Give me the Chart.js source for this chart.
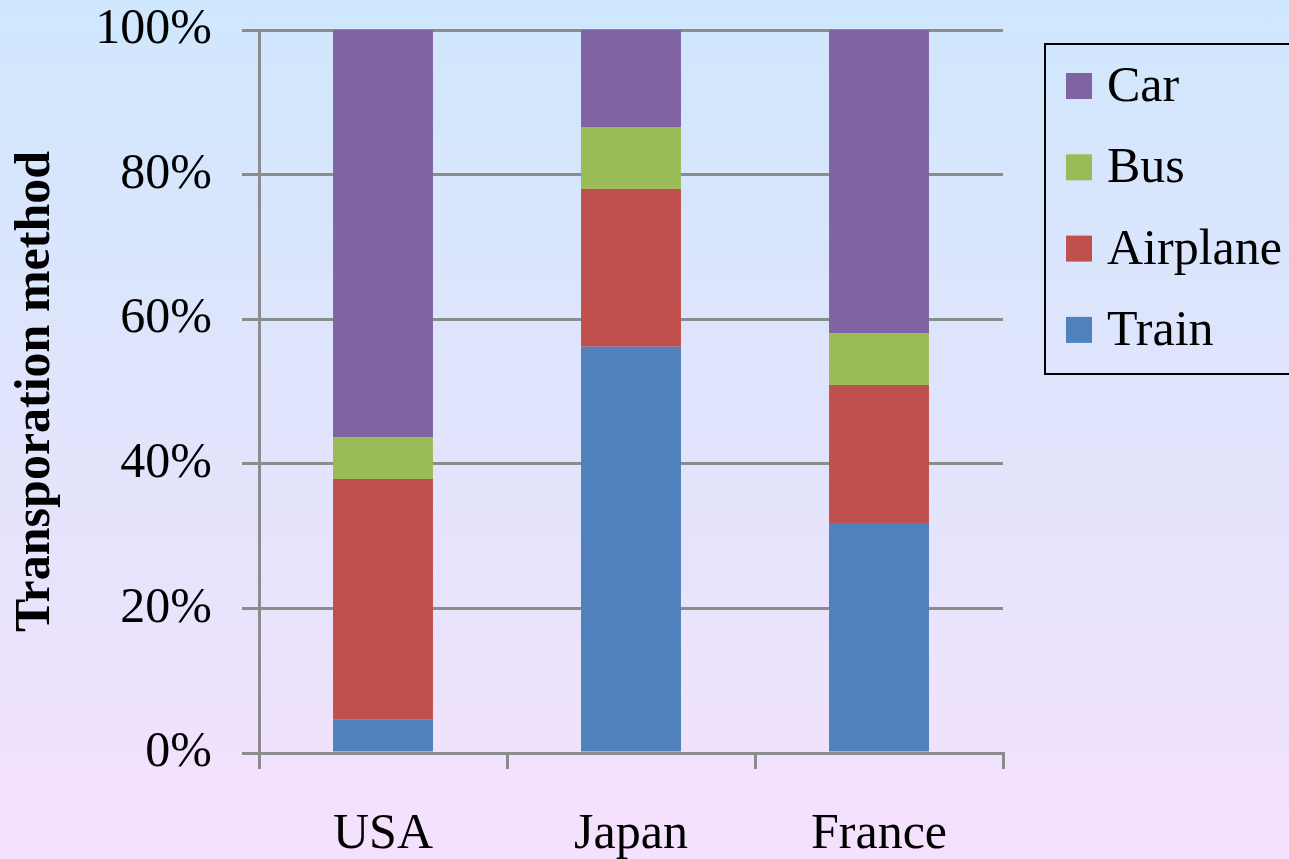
<!DOCTYPE html>
<html>
<head>
<meta charset="utf-8">
<title>Transportation method</title>
<script src="https://cdn.jsdelivr.net/npm/chart.js@4.4.1/dist/chart.umd.min.js"></script>
<style>
  html, body { margin: 0; padding: 0; }
  body {
    width: 1289px;
    height: 859px;
    overflow: hidden;
    background: linear-gradient(to bottom, #cfe7fd 0%, #e3e4fc 55%, #f5e1fd 100%);
  }
  #wrap { position: relative; width: 1289px; height: 859px; }
</style>
</head>
<body>
<div id="wrap"><canvas id="myChart" width="1289" height="859"></canvas></div>
<script>
// countries along the x axis
const countries = ['USA', 'Japan', 'France'];

// share of each transport method, percent (stacked bottom to top)
const train = [4.6, 56.2, 31.8];
const airplane = [33.3, 21.8, 19.1];
const bus = [5.8, 8.6, 7.2];
const car = [56.3, 13.4, 41.9];

const yTicks = [0, 20, 40, 60, 80, 100];
const yTitle = 'Transporation method';

const serif = "'Liberation Serif', 'Times New Roman', serif";
const gridColor = '#8c8c8c';

// boxed legend, listed top series first like the original
const boxLegend = {
  id: 'boxLegend',
  afterDraw(chart) {
    const ctx = chart.ctx;
    const area = chart.chartArea;
    const left = area.right + 42;
    const top = area.top + 14;
    const rowGap = 81.3;
    ctx.save();
    ctx.strokeStyle = '#000';
    ctx.lineWidth = 2;
    ctx.strokeRect(left, top, 300, 330);
    ctx.font = '50px ' + serif;
    ctx.textBaseline = 'middle';
    ctx.fillStyle = '#000';
    const sets = chart.data.datasets.slice().reverse();
    sets.forEach((ds, i) => {
      const cy = top + 42 + i * rowGap;
      ctx.fillStyle = ds.backgroundColor;
      ctx.fillRect(left + 21, cy - 13, 26, 26);
      ctx.fillStyle = '#000';
      ctx.fillText(ds.label, left + 62, cy + 2);
    });
    ctx.restore();
  }
};

const data = {
  labels: countries,
  datasets: [
    { label: 'Train', data: train, backgroundColor: '#4f81bd' },
    { label: 'Airplane', data: airplane, backgroundColor: '#c0504d' },
    { label: 'Bus', data: bus, backgroundColor: '#9bbb59' },
    { label: 'Car', data: car, backgroundColor: '#8064a2' }
  ]
};

const config = {
  type: 'bar',
  data,
  options: {
    responsive: false,
    animation: false,
    layout: { padding: { top: 30, right: 286, bottom: 0, left: 0 } },
    datasets: {
      bar: { categoryPercentage: 0.403, barPercentage: 1, borderWidth: 0 }
    },
    plugins: {
      legend: { display: false },
      tooltip: { enabled: false }
    },
    scales: {
      x: {
        stacked: true,
        afterFit: (scale) => {
          scale.height = 106;
          scale.paddingLeft = 0;
          scale.paddingRight = 0;
        },
        grid: {
          offset: true,
          drawOnChartArea: false,
          drawTicks: true,
          tickLength: 16,
          color: gridColor,
          lineWidth: 3
        },
        border: { display: true, color: gridColor, width: 3 },
        ticks: {
          color: '#000',
          padding: 36,
          font: { family: serif, size: 50 }
        }
      },
      y: {
        stacked: true,
        min: 0,
        max: 100,
        afterFit: (scale) => {
          scale.width = 259;
          scale.paddingTop = 0;
          scale.paddingBottom = 0;
        },
        afterBuildTicks: (scale) => {
          scale.ticks = yTicks.map(v => ({ value: v }));
        },
        grid: {
          drawTicks: true,
          tickLength: 17,
          color: gridColor,
          lineWidth: 3
        },
        border: { display: true, color: gridColor, width: 3 },
        ticks: {
          color: '#000',
          padding: 30,
          font: { family: serif, size: 50 },
          callback: (v) => v + '%'
        },
        title: {
          display: true,
          text: yTitle,
          color: '#000',
          padding: { top: 6, bottom: 0 },
          font: { family: serif, size: 50, weight: 'bold' }
        }
      }
    }
  },
  plugins: [boxLegend]
};

const myChart = new Chart(document.getElementById('myChart'), config);
</script>
</body>
</html>
